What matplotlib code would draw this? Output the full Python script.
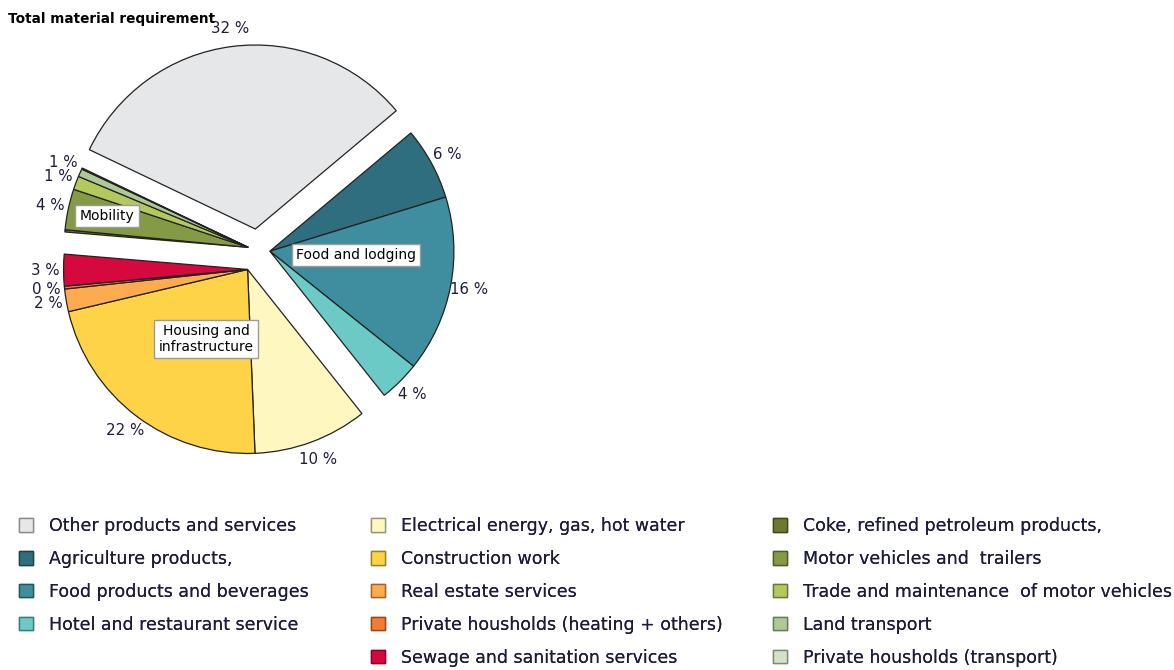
import matplotlib
matplotlib.use("Agg")
import matplotlib.pyplot as plt
import matplotlib.colors as mcolors
from matplotlib.patches import Patch
import numpy as np

# categories in clockwise order, starting at the top right
categories = ["Agriculture products,", "Food products and beverages", "Hotel and restaurant service",
              "Electrical energy, gas, hot water", "Construction work", "Real estate services",
              "Private housholds (heating + others)", "Sewage and sanitation services",
              "Coke, refined petroleum products,", "Motor vehicles and  trailers",
              "Trade and maintenance  of motor vehicles", "Land transport",
              "Private housholds (transport)", "Other products and services"]
# share of total material requirement (%)
values = [6.4, 15.6, 3.6, 10.1, 22.1, 2.0, 0.25, 2.8, 0.2, 3.6, 1.2, 0.7, 0.1, 32.0]
# which slices carry a percentage label
show_label = [True, True, True, True, True, True, True, True, False, True, True, True, False, True]
colors = ["#2e6e7e", "#3f8ea0", "#6ccac6", "#fef8c0", "#fed348", "#fcab4e", "#f47a30", "#d6093f",
          "#6b7a2e", "#849a45", "#b3c95b", "#adc997", "#d3e2c7", "#e6e7e8"]
# group each slice belongs to
groups = ["Food and lodging"] * 3 + ["Housing and\ninfrastructure"] * 5 + ["Mobility"] * 5 + ["Other"]
group_explode = {"Food and lodging": 0.065, "Housing and\ninfrastructure": 0.12,
                 "Mobility": 0.055, "Other": 0.115}
group_text_pos = {"Food and lodging": (356, 255), "Housing and\ninfrastructure": (206, 339),
                  "Mobility": (107, 216)}

# legend layout (three columns, as in the original)
legend_cols = [
    ["Other products and services", "Agriculture products,", "Food products and beverages",
     "Hotel and restaurant service"],
    ["Electrical energy, gas, hot water", "Construction work", "Real estate services",
     "Private housholds (heating + others)", "Sewage and sanitation services"],
    ["Coke, refined petroleum products,", "Motor vehicles and  trailers",
     "Trade and maintenance  of motor vehicles", "Land transport", "Private housholds (transport)"],
]

W, H = 1174, 670
fig = plt.figure(figsize=(W / 100, H / 100), dpi=100)
ax = fig.add_axes([0, 0, 1, 1])

R = 184
cx, cy = 258, H - 250
text_col = "#1c1c3a"

wedges, _ = ax.pie(values, colors=colors, startangle=40, counterclock=False, radius=R,
                   center=(cx, cy), wedgeprops=dict(edgecolor="#222222", linewidth=0.9))

# explode whole groups instead of single slices
group_center = {}
for g in group_explode:
    ws = [w for w, gg in zip(wedges, groups) if gg == g]
    mid = np.deg2rad((min(w.theta1 for w in ws) + max(w.theta2 for w in ws)) / 2)
    d = group_explode[g] * R
    group_center[g] = (cx + d * np.cos(mid), cy + d * np.sin(mid))

last_y = {}
for w, g, v, show in zip(wedges, groups, values, show_label):
    w.set_center(group_center[g])
    if not show:
        continue
    mid = np.deg2rad((w.theta1 + w.theta2) / 2)
    gx, gy = group_center[g]
    r = R * 1.1
    tx, ty = gx + r * np.cos(mid), gy + r * np.sin(mid)
    # keep the crowded mobility labels apart
    if g == "Mobility" and g in last_y and ty - last_y[g] < 14:
        ty = last_y[g] + 14
    last_y[g] = ty
    ax.text(tx, ty, f"{v:.0f} %", ha="center", va="center", fontsize=10.8, color=text_col)

for g, (px, py) in group_text_pos.items():
    ax.text(px, H - py, g, ha="center", va="center", fontsize=10, color="black",
            linespacing=1.1,
            bbox=dict(boxstyle="square,pad=0.3", fc="white", ec="#9a9a9a", lw=1))

ax.text(8, H - 19, "Total material requirement", fontsize=9.8, fontweight="bold",
        ha="left", va="center", color="black")

ax.set_xlim(0, W)
ax.set_ylim(0, H)
ax.set_aspect("equal")
ax.axis("off")

# legends
color_of = dict(zip(categories, colors))
col_x = [19, 371, 773]
for x0, labels in zip(col_x, legend_cols):
    handles = []
    for lab in labels:
        c = color_of[lab]
        edge = tuple(np.array(mcolors.to_rgb(c)) * 0.6)
        handles.append(Patch(facecolor=c, edgecolor=edge, linewidth=1, label=lab))
    leg = fig.legend(handles=handles, loc="upper left", bbox_to_anchor=(x0 / W, 1 - 517 / H),
                     frameon=False, fontsize=12.5, handlelength=0.8, handleheight=0.8,
                     handletextpad=0.9, labelspacing=0.86, borderaxespad=0, borderpad=0)
    for t in leg.get_texts():
        t.set_color(text_col)
    fig.add_artist(leg)

fig.savefig("out.png", dpi=100)
